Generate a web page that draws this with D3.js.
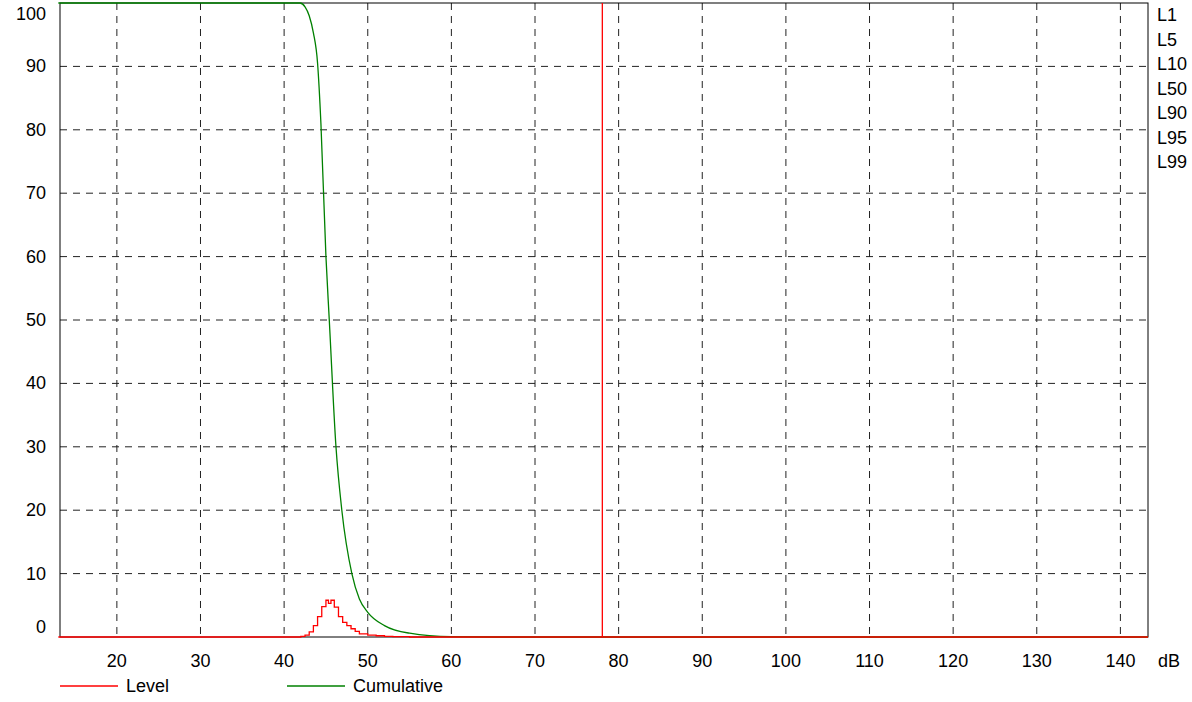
<!DOCTYPE html>
<html><head><meta charset="utf-8">
<script src="https://cdn.jsdelivr.net/npm/d3@7"></script>
<style>body{margin:0;background:#fff}text{font-family:"Liberation Sans",Arial,sans-serif;font-size:18px;fill:#000}</style>
</head><body><svg width="1192" height="702"></svg>
<script>
const xTicks = [20,30,40,50,60,70,80,90,100,110,120,130,140];
const yTicks = [0,10,20,30,40,50,60,70,80,90,100];
const levelX = [13,41,42,42.5,43,43.5,44,44.5,45,45.3,45.6,46,46.5,47,47.5,48,48.5,49,50,51,52,53,55,143.3];
const levelY = [0,0,0.1,0.3,0.8,1.8,3.2,4.8,5.8,5.3,5.8,4.7,3.2,2.3,1.8,1.3,0.9,0.5,0.3,0.2,0.1,0.05,0,0];
const cumX = [13,41.9,42.5,43,43.5,44,44.4,45,45.4,46.2,46.9,48.1,49,50,52,55,60,65,143.3];
const cumY = [100,100,99.4,98,95.3,90.5,81,60,50,30,20,10,6,3.9,1.8,0.6,0.05,0,0];
const levelMarker = 78.05;
const stats = ["L1","L5","L10","L50","L90","L95","L99"];

const svg = d3.select("svg");
const x = d3.scaleLinear().domain([13.2,143.3]).range([60,1148]);
const y = d3.scaleLinear().domain([0,100]).range([637,3]);

const grid = svg.append("g").attr("stroke","#222").attr("stroke-dasharray","7,6").attr("stroke-width",1);
xTicks.forEach(t => grid.append("line").attr("x1",x(t)).attr("x2",x(t)).attr("y1",3).attr("y2",637));
yTicks.filter(t => t>0 && t<100).forEach(t => grid.append("line").attr("x1",60).attr("x2",1148).attr("y1",y(t)).attr("y2",y(t)));

svg.append("rect").attr("x",60).attr("y",3).attr("width",1088).attr("height",634)
  .attr("fill","none").attr("stroke","#000");

xTicks.forEach(t => svg.append("text").attr("x",x(t)).attr("y",667).attr("text-anchor","middle").text(t));
svg.append("text").attr("x",1158).attr("y",667).text("dB");
yTicks.forEach(t => {
  const off = t === 0 ? -4 : (t === 100 ? 17 : 6);
  svg.append("text").attr("x",46).attr("y",y(t)+off).attr("text-anchor","end").text(t);
});
stats.forEach((s,i) => svg.append("text").attr("x",1157).attr("y",21+i*24.5).text(s));

const line = d3.line().x(d => x(d[0])).y(d => y(d[1]));
svg.append("path").datum(cumX.map((v,i)=>[v,cumY[i]])).attr("d",line.curve(d3.curveMonotoneX))
  .attr("fill","none").attr("stroke","#008000").attr("stroke-width",1.3);
svg.append("path").datum(levelX.map((v,i)=>[v,levelY[i]])).attr("d",d3.line().x(d=>x(d[0])).y(d=>y(d[1])).curve(d3.curveStepAfter))
  .attr("fill","none").attr("stroke","#ff0000").attr("stroke-width",1.3);
svg.append("line").attr("x1",x(levelMarker)).attr("x2",x(levelMarker)).attr("y1",3).attr("y2",637)
  .attr("stroke","#ff0000").attr("stroke-width",1.3);

const legend = [["Level","#ff0000",60],["Cumulative","#008000",287]];
legend.forEach(([n,c,lx]) => {
  svg.append("line").attr("x1",lx).attr("x2",lx+58).attr("y1",686).attr("y2",686).attr("stroke",c).attr("stroke-width",1.3);
  svg.append("text").attr("x",lx+66).attr("y",692).text(n);
});
</script></body></html>
